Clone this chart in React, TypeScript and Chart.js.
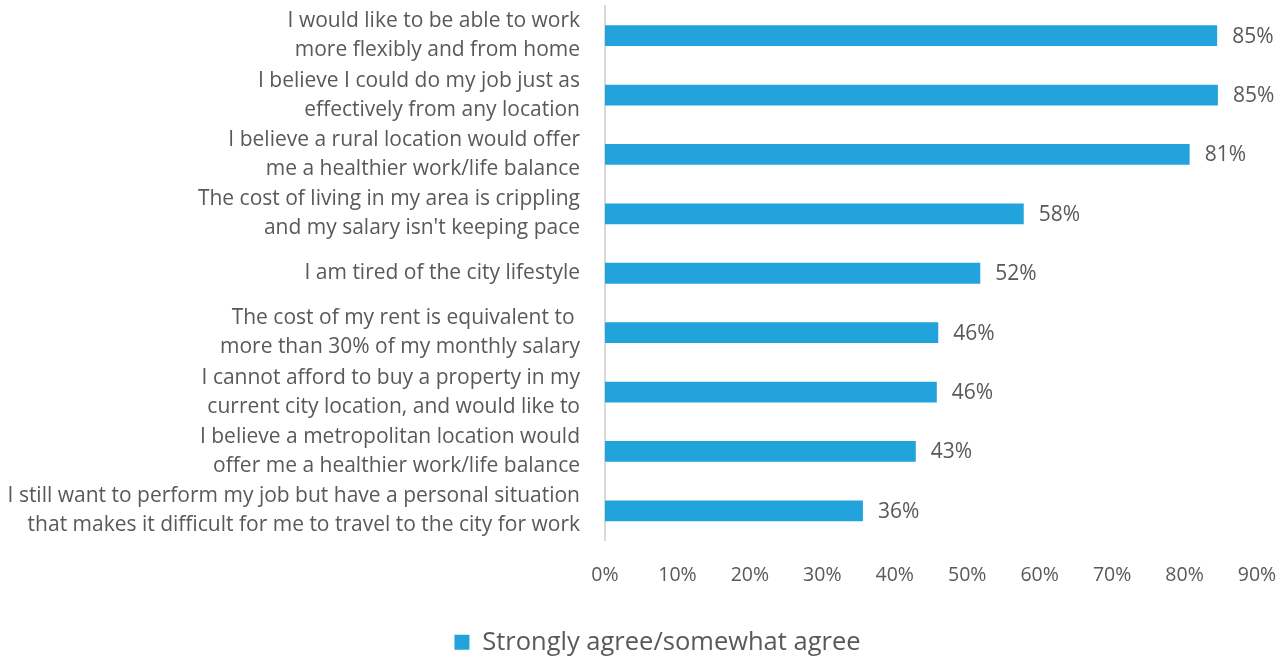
import React, { useEffect, useRef } from "react";
import { Chart, registerables } from "chart.js";

Chart.register(...registerables);

const categories: (string | string[])[] = [
  ["I would like to be able to work", "more flexibly and from home"],
  ["I believe I could do my job just as", "effectively from any location"],
  ["I believe a rural location would offer", "me a healthier work/life balance"],
  ["The cost of living in my area is crippling", "and my salary isn't keeping pace"],
  "I am tired of the city lifestyle",
  ["The cost of my rent is equivalent to ", "more than 30% of my monthly salary"],
  ["I cannot afford to buy a property in my", "current city location, and would like to"],
  ["I believe a metropolitan location would", "offer me a healthier work/life balance"],
  ["I still want to perform my job but have a personal situation", "that makes it difficult for me to travel to the city for work"],
];

const agreeValues = [84.5, 84.6, 80.7, 57.8, 51.8, 46.0, 45.8, 42.9, 35.6];
const seriesName = "Strongly agree/somewhat agree";
const xTicks = [0, 10, 20, 30, 40, 50, 60, 70, 80, 90];

const FONT = "'Open Sans', 'Noto Sans', sans-serif";
const TEXT = "#595959";
const BAR = "#22A3DB";

const valueLabels = {
  id: "valueLabels",
  afterDatasetsDraw(chart: any) {
    const { ctx } = chart;
    const meta = chart.getDatasetMeta(0);
    ctx.save();
    ctx.font = `21px ${FONT}`;
    ctx.fillStyle = TEXT;
    ctx.textAlign = "left";
    ctx.textBaseline = "middle";
    meta.data.forEach((bar: any, i: number) => {
      const v = chart.data.datasets[0].data[i] as number;
      ctx.fillText(`${Math.round(v)}%`, bar.x + 15, bar.y + 1);
    });
    ctx.restore();
  },
};

const shiftLegend = {
  id: "shiftLegend",
  afterLayout(chart: any) {
    const lg = chart.legend;
    if (lg) {
      lg.left += 29;
      lg.right += 29;
    }
  },
};

export default function App() {
  const ref = useRef<HTMLCanvasElement>(null);
  useEffect(() => {
    document.body.style.margin = "0";
    const chart = new Chart(ref.current!, {
      type: "bar",
      data: {
        labels: categories,
        datasets: [
          {
            label: seriesName,
            data: agreeValues,
            backgroundColor: BAR,
            borderWidth: 0,
            barPercentage: 0.7,
            categoryPercentage: 0.5,
          },
        ],
      },
      options: {
        indexAxis: "y",
        animation: false,
        responsive: false,
        maintainAspectRatio: false,
        layout: { padding: { top: 6, right: 24, bottom: -8, left: 0 } },
        scales: {
          x: {
            min: 0,
            max: 90,
            afterBuildTicks: (scale: any) => {
              scale.ticks = xTicks.map((v) => ({ value: v }));
            },
            afterFit: (scale: any) => {
              scale.height = 79;
              scale.paddingLeft = 0;
              scale.paddingRight = 0;
            },
            grid: { display: false, drawTicks: false },
            border: { display: false },
            ticks: {
              padding: 23,
              color: TEXT,
              font: { family: FONT, size: 19.5 },
              callback: (v: any) => `${v}%`,
            },
          },
          y: {
            afterFit: (scale: any) => {
              scale.width = 605;
              scale.paddingTop = 0;
              scale.paddingBottom = 0;
            },
            grid: { display: false, drawTicks: false },
            border: { display: true, color: "#D9D9D9", width: 2 },
            ticks: {
              padding: 25,
              color: TEXT,
              font: { family: FONT, size: 21, lineHeight: 1.38 },
              autoSkip: false,
            },
          },
        },
        plugins: {
          legend: {
            position: "bottom",
            labels: {
              color: TEXT,
              font: { family: FONT, size: 25.5 },
              boxWidth: 15,
              boxHeight: 15,
              padding: 10,
            },
          },
          tooltip: { enabled: false },
        },
      },
      plugins: [valueLabels, shiftLegend],
    });
    return () => chart.destroy();
  }, []);
  return (
    <div style={{ position: "absolute", left: 0, top: 0, width: 1281, height: 657 }}>
      <canvas ref={ref} width={1281} height={657} style={{ width: 1281, height: 657 }} />
    </div>
  );
}
